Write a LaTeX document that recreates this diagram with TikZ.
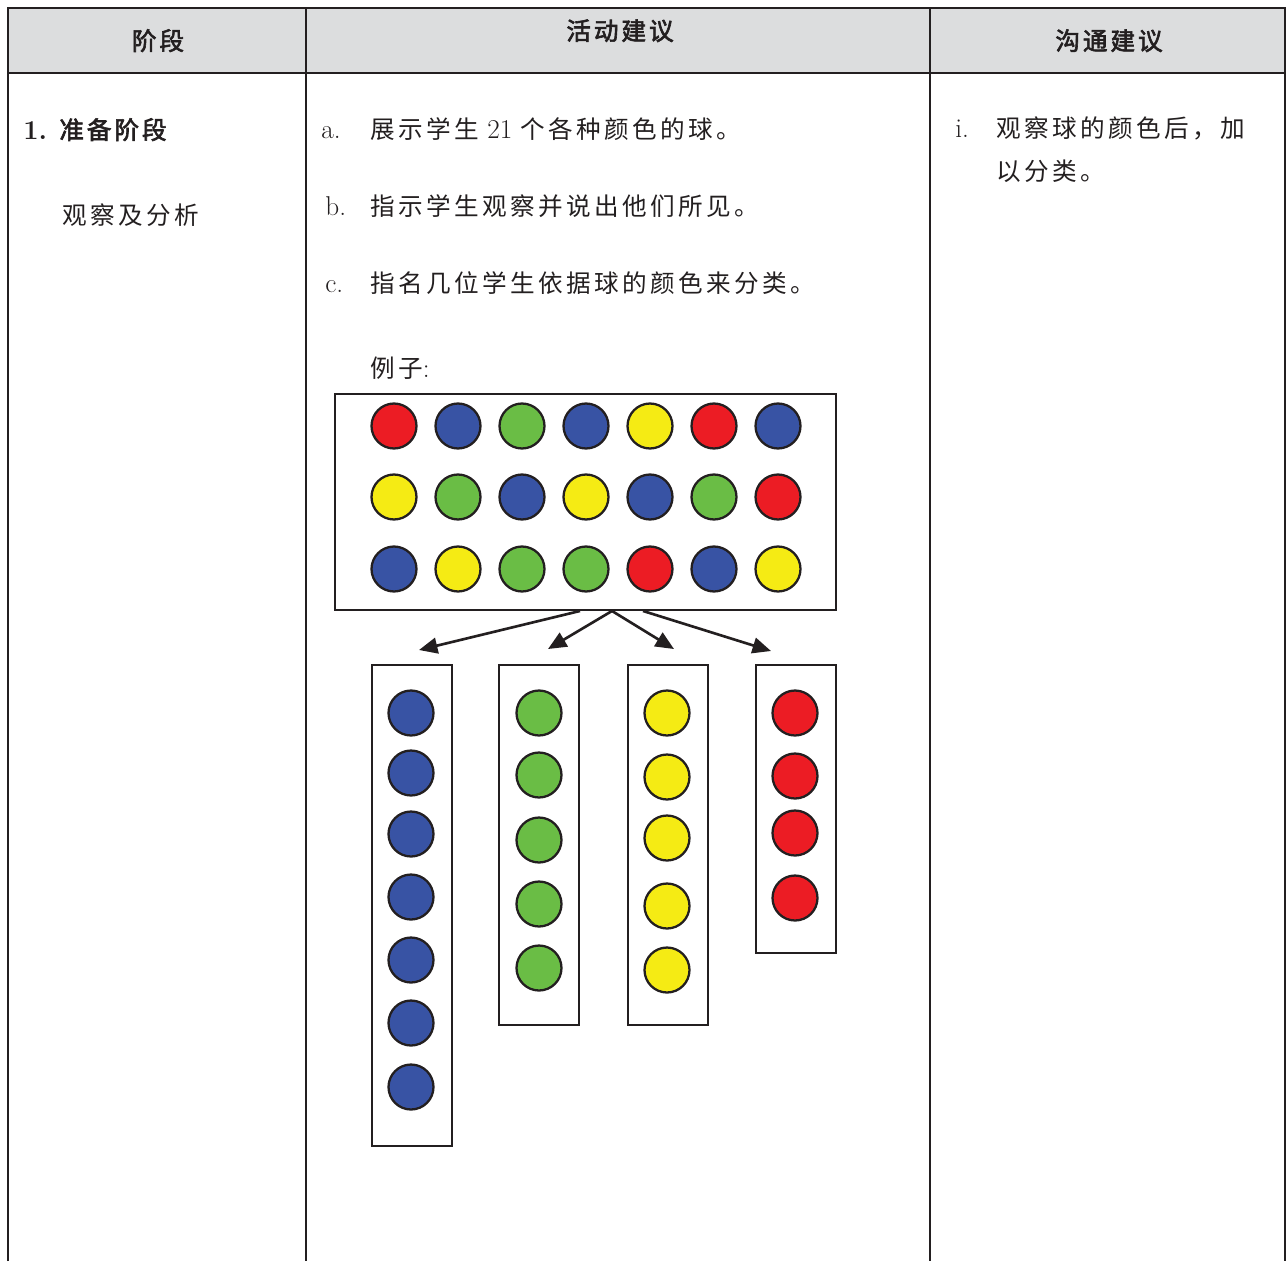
\documentclass[tikz,border=0pt]{standalone}
\usepackage{fontspec}
\newfontfamily\cjk[LetterSpace=14]{Noto Sans CJK SC}
\newfontfamily\cjkb[LetterSpace=12,FakeBold=2.5]{Noto Sans CJK SC}
\usetikzlibrary{arrows.meta,fit,calc}
\definecolor{bred}{HTML}{EC1C24}
\definecolor{bblue}{HTML}{3853A4}
\definecolor{bgreen}{HTML}{6ABD45}
\definecolor{byellow}{HTML}{F5EB14}
\definecolor{hgray}{HTML}{DCDDDE}
\definecolor{ink}{HTML}{231F20}
\tikzset{
  txt/.style={inner sep=0pt, anchor=base west, text=ink, font=\fontsize{15.5}{18}\selectfont},
  cjktxt/.style={txt, font=\fontsize{14}{17}\selectfont\cjk},
  headtxt/.style={inner sep=0pt, anchor=base, text=ink, font=\fontsize{14}{17}\selectfont\cjkb},
  rule/.style={draw=ink, line width=1.1pt},
  box/.style={draw=ink, line width=1.1pt, inner sep=0pt, rectangle},
  ball/.style={circle, draw=ink, line width=1.3pt, minimum size=25.6pt, inner sep=0pt},
  arr/.style={draw=ink, line width=1.5pt, -{Triangle[length=10.5pt,width=9pt]}}
}
\begin{document}
\begin{tikzpicture}[x=0.02cm,y=-0.02cm]
\useasboundingbox (0,0) rectangle (1287,1261);
% table
\fill[hgray] (8,8) rectangle (1285,73);
\draw[rule] (8,1261) -- (8,8) -- (1285,8) -- (1285,1261);
\draw[rule] (8,73) -- (1285,73);
\draw[rule] (306,8) -- (306,1261);
\draw[rule] (930,8) -- (930,1261);
% headers
\node[headtxt] (h1) at (158,50) {阶段};
\node[headtxt] (h2) at (620,40) {活动建议};
\node[headtxt] (h3) at (1109,50) {沟通建议};
% left column
\node[txt, font=\fontsize{15.5}{18}\selectfont\bfseries] (n1) at (23,139) {1.};
\node[txt, font=\fontsize{14}{17}\selectfont\cjkb] (stage) at (59,139) {准备阶段};
\node[cjktxt] (obs) at (62,224) {观察及分析};
% middle column
\node[txt] (la) at (321,138) {a.};
\node[cjktxt] (ta) at (370,138) {展示学生{\rmfamily\fontsize{15.5}{18}\selectfont\ 21\ }个各种颜色的球。};
\node[txt] (lb) at (325,215) {b.};
\node[cjktxt] (tb) at (370,215) {指示学生观察并说出他们所见。};
\node[txt] (lc) at (325,292) {c.};
\node[cjktxt] (tc) at (370,292) {指名几位学生依据球的颜色来分类。};
\node[cjktxt] (eg) at (370,377) {例子{\rmfamily\fontsize{15.5}{18}\selectfont :}};
% right column
\node[txt] (li) at (955,137) {i.};
\node[cjktxt] (ti1) at (996,137) {观察球的颜色后，加};
\node[cjktxt] (ti2) at (996,180) {以分类。};
% top box of balls
\node[box, fit={(335,394) (836,610)}] (top) {};
\foreach \c [count=\i] in {bred,bblue,bgreen,bblue,byellow,bred,bblue}
  \node[ball, fill=\c] (ra\i) at ({394+64*(\i-1)},426) {};
\foreach \c [count=\i] in {byellow,bgreen,bblue,byellow,bblue,bgreen,bred}
  \node[ball, fill=\c] (rb\i) at ({394+64*(\i-1)},497) {};
\foreach \c [count=\i] in {bblue,byellow,bgreen,bgreen,bred,bblue,byellow}
  \node[ball, fill=\c] (rc\i) at ({394+64*(\i-1)},569) {};
% sorted boxes
\node[box, fit={(372,665) (452,1146)}] (bluebox) {};
\node[box, fit={(499,665) (579,1025)}] (greenbox) {};
\node[box, fit={(628,665) (708,1025)}] (yellowbox) {};
\node[box, fit={(756,665) (836,953)}] (redbox) {};
\foreach \y [count=\i] in {713,773,834,897,960,1023,1087}
  \node[ball, fill=bblue] (bl\i) at (411,\y) {};
\foreach \y [count=\i] in {713,775,840,904,968}
  \node[ball, fill=bgreen] (gr\i) at (539,\y) {};
\foreach \y [count=\i] in {713,777,838,906,970}
  \node[ball, fill=byellow] (ye\i) at (667,\y) {};
\foreach \y [count=\i] in {713,776,833,898}
  \node[ball, fill=bred] (re\i) at (795,\y) {};
% arrows
\coordinate (e1) at (419,650);
\coordinate (e2) at (548,649);
\coordinate (e3) at (674,649);
\coordinate (e4) at (771,651);
\draw[arr] ($(top.south)+(-5.5,0)$) -- (e1);
\draw[arr] ($(top.south)+(26.5,0)$) -- (e2);
\draw[arr] ($(top.south)+(26.5,0)$) -- (e3);
\draw[arr] ($(top.south)+(57.5,0)$) -- (e4);
\end{tikzpicture}
\end{document}
